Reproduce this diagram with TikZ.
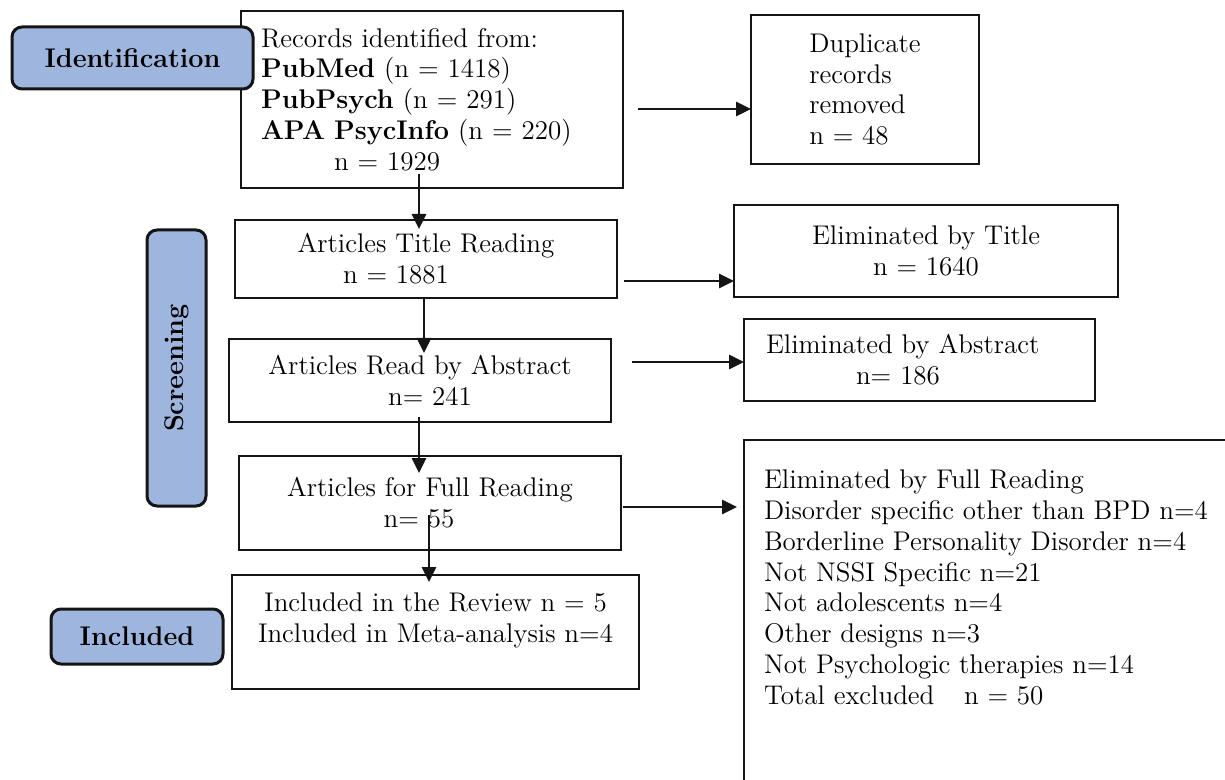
\documentclass[tikz,border=0pt]{standalone}
\usepackage{fontspec}
\usetikzlibrary{arrows.meta,calc}
\definecolor{phaseblue}{HTML}{9EB5DE}
\definecolor{edge}{HTML}{151515}
\newcommand\mainsz{\fontsize{13.5}{15.4}\selectfont}
\begin{document}
\begin{tikzpicture}[x=0.5pt,y=-0.5pt,
 box/.style={draw=edge,line width=1.45pt,fill=white,inner sep=0pt,outer sep=0pt,align=center,font=\mainsz},
 phase/.style={draw=edge,line width=1.5pt,fill=phaseblue,rounded corners=5pt,inner sep=0pt,outer sep=0pt,font=\mainsz\bfseries},
 lbl/.style={inner sep=0pt,outer sep=0pt,font=\mainsz},
 arr/.style={draw=edge,line width=1.35pt,-{Triangle[length=7.5pt,width=7pt]}}]
\clip (0,0) rectangle (1225,780);
\fill[white] (0,0) rectangle (1225,780);

% main column
\node[box,minimum width=191pt,minimum height=88.5pt,text width=171pt,align=left] (recs) at (432,99.5)
  {Records identified from:\\\textbf{PubMed} (n = 1418)\\\textbf{PubPsych} (n = 291)\\\textbf{APA PsycInfo} (n = 220)\\\hspace*{36.5pt}n = 1929};
\node[phase,minimum width=120.5pt,minimum height=31pt] (ident) at (132.5,58) {Identification};

\node[box,minimum width=114pt,minimum height=74.5pt,align=left] (dup) at (865,89.5)
  {Duplicate\\records\\removed\\n = 48};

\node[box,minimum width=191pt,minimum height=39pt] (title) at (426,259)
  {Articles Title Reading\\\mbox{n = 1881\hspace{30pt}}};
\node[box,minimum width=192pt,minimum height=46pt] (elimT) at (926,251)
  {Eliminated by Title\\n = 1640};

\node[phase,rotate=90,minimum width=138pt,minimum height=29.5pt] (screen) at (176.5,368) {Screening};

\node[box,minimum width=191pt,minimum height=41.5pt] (abs) at (420,380.5)
  {Articles Read by Abstract\\\mbox{\hspace{10pt}n= 241}};
\node[box,minimum width=175.5pt,minimum height=41pt,text width=153.5pt,align=left] (elimA) at (919.5,360)
  {Eliminated by Abstract\\\hspace*{45pt}n= 186};

\node[box,minimum width=191pt,minimum height=47pt] (full) at (430,503)
  {Articles for Full Reading\\\mbox{n= 55\hspace{11pt}}};
\node[box,anchor=north west,minimum width=260pt,minimum height=200pt,
  label={[lbl,align=left,anchor=north west,xshift=10pt,yshift=-15pt]north west:{Eliminated by Full Reading\\Disorder specific other than BPD n=4\\Borderline Personality Disorder n=4\\Not NSSI Specific n=21\\Not adolescents n=4\\Other designs n=3\\Not Psychologic therapies n=14\\Total excluded\hspace{1.1em}n = 50}}] (elimF) at (744,440) {};

\node[box,minimum width=203.5pt,minimum height=57pt,
  label={[lbl,align=center,anchor=north,yshift=-9pt]north:{Included in the Review n = 5\\Included in Meta-analysis n=4}}] (incl) at (435.5,632) {};
\node[phase,minimum width=86pt,minimum height=27.5pt] (inclab) at (137,636.5) {Included};

% vertical connectors
\coordinate (s1) at ($(recs.south)+(-13,-14)$);
\draw[arr] (s1) -- ($(s1 |- title.north)+(0,9)$);
\coordinate (s2) at ($(title.south)+(-2,0)$);
\draw[arr] (s2) -- ($(s2 |- abs.north)+(0,14)$);
\coordinate (s3) at ($(abs.south)+(-1,-5)$);
\draw[arr] (s3) -- ($(s3 |- full.north)+(0,17)$);
\coordinate (s4) at ($(full.south)+(-1,-35)$);
\draw[arr] (s4) -- ($(s4 |- incl.north)+(0,7)$);

% horizontal connectors
\coordinate (h1) at ($(recs.east)+(15,9.5)$);
\draw[arr] (h1) -- (h1 -| dup.west);
\coordinate (h2) at ($(title.east)+(7,22)$);
\draw[arr] (h2) -- (h2 -| elimT.west);
\coordinate (h3) at ($(abs.east)+(21,-18.5)$);
\draw[arr] (h3) -- (h3 -| elimA.west);
\coordinate (h4) at ($(full.east)+(2,4)$);
\draw[arr] (h4) -- ($(h4 -| elimF.west)+(-7,0)$);
\end{tikzpicture}
\end{document}
